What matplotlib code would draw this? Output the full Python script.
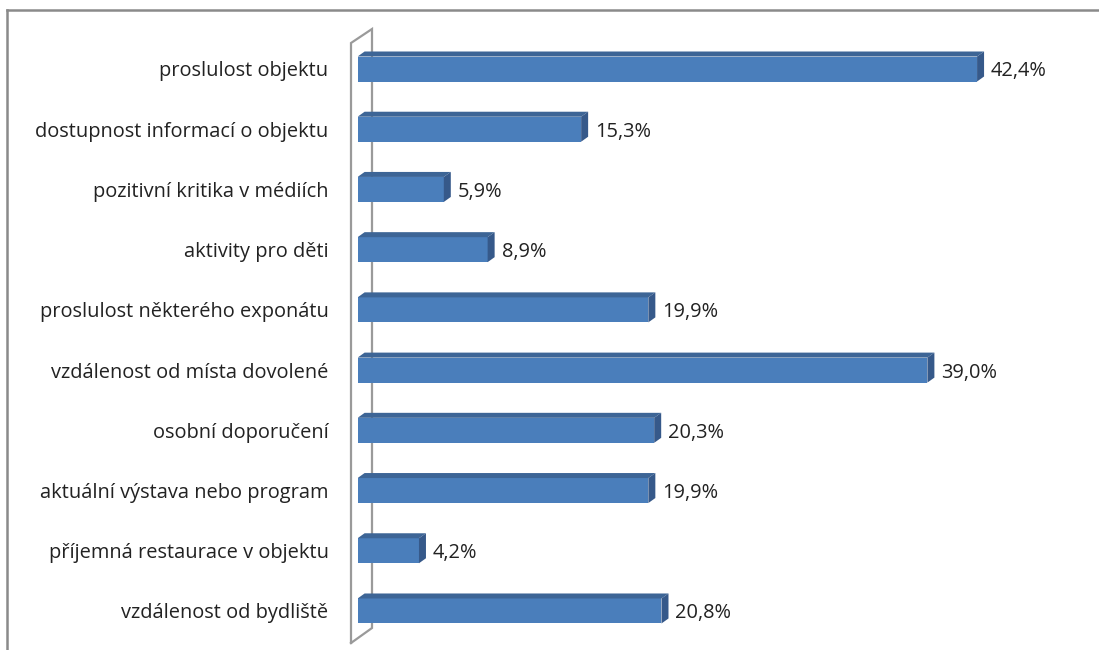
import matplotlib
matplotlib.use("Agg")
import matplotlib.pyplot as plt
from matplotlib.patches import Polygon
from matplotlib.lines import Line2D

categories = [
    "proslulost objektu",
    "dostupnost informací o objektu",
    "pozitivní kritika v médiích",
    "aktivity pro děti",
    "proslulost některého exponátu",
    "vzdálenost od místa dovolené",
    "osobní doporučení",
    "aktuální výstava nebo program",
    "příjemná restaurace v objektu",
    "vzdálenost od bydliště",
]
values = [42.4, 15.3, 5.9, 8.9, 19.9, 39.0, 20.3, 19.9, 4.2, 20.8]

FRONT = "#4a7ebb"
TOP = "#3d6596"
SIDE = "#36598a"
WALL = "#9a9a9a"
FONT = ["Open Sans", "DejaVu Sans"]
FS = 14.4

W, H, DPI = 1099, 650, 100
fig = plt.figure(figsize=(W / DPI, H / DPI), dpi=DPI)

# pixel layout of the plot area
x0_px, x_right_px = 357.6, 1099.0
px_per_unit = 14.61
y_top_px, y_bot_px = 20.0, 650.0
row0_px, row_step_px = 69.0, 60.22

ax = fig.add_axes([x0_px / W, 1 - y_bot_px / H,
                   (x_right_px - x0_px) / W, (y_bot_px - y_top_px) / H])
ax.set_xlim(0, (x_right_px - x0_px) / px_per_unit)
ax.set_ylim((y_bot_px - row0_px) / row_step_px, (y_top_px - row0_px) / row_step_px)
ax.axis("off")

# 3-D depth of the bars, in data units
bar_h = 25 / row_step_px
dx = 7 / px_per_unit
dy = 5 / row_step_px

# side wall drawn behind the bars
wx_front = (351 - x0_px) / px_per_unit
wx_back = (372 - x0_px) / px_per_unit
wy = lambda p: (p - row0_px) / row_step_px
wall = [(wx_front, wy(643)), (wx_front, wy(43)), (wx_back, wy(29)),
        (wx_back, wy(628)), (wx_front, wy(643))]
ax.plot([p[0] for p in wall], [p[1] for p in wall], color=WALL, lw=1.6,
        clip_on=False, zorder=1, solid_joinstyle="miter")

pos = list(range(len(categories)))
ax.barh(pos, values, height=bar_h, color=FRONT, zorder=3)
for y, v in zip(pos, values):
    top = y - bar_h / 2
    bot = y + bar_h / 2
    ax.add_patch(Polygon([(0, top), (v, top), (v + dx, top - dy), (dx, top - dy)],
                         closed=True, facecolor=TOP, edgecolor="none", zorder=3))
    ax.add_patch(Polygon([(v, top), (v + dx, top - dy), (v + dx, bot - dy), (v, bot)],
                         closed=True, facecolor=SIDE, edgecolor="none", zorder=3))
    ax.text(v + dx + 7 / px_per_unit, y + 0.04, f"{v:.1f}".replace(".", ",") + "%",
            ha="left", va="center", fontsize=FS, family=FONT, color="#222222")
    ax.text(-29 / px_per_unit, y + 0.04, categories[y], ha="right", va="center",
            fontsize=FS, family=FONT, color="#222222")

# outer chart frame
fig.add_artist(Line2D([7 / W, 7 / W], [0, 1 - 9.5 / H], color="#8a8a8a", lw=1.8))
fig.add_artist(Line2D([7 / W, 1], [1 - 9.5 / H, 1 - 9.5 / H], color="#8a8a8a", lw=1.8))

fig.savefig("out.png", dpi=DPI)
